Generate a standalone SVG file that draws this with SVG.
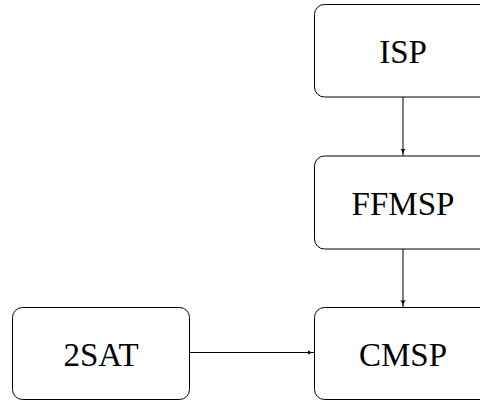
<svg xmlns="http://www.w3.org/2000/svg" width="480" height="401" viewBox="0 0 480 401">
<style>
.box{fill:#fff;stroke:#000;stroke-width:1}
.lbl{font-family:"Liberation Serif","Times New Roman",serif;font-size:33px;fill:#000;text-anchor:middle}
.edge{fill:none;stroke:#000;stroke-width:1}
</style>
<defs>
<marker id="arr" viewBox="0 0 10 8" refX="10" refY="4" markerWidth="7" markerHeight="5.6" markerUnits="userSpaceOnUse" orient="auto">
<path d="M0,0 Q4,4 10,4 Q4,4 0,8 Q2,4 0,0 Z" fill="#000"/>
</marker>
</defs>
<g id="connectors">
<line class="edge" x1="403" y1="97" x2="403" y2="155.5" marker-end="url(#arr)"/>
<line class="edge" x1="403" y1="249" x2="403" y2="307" marker-end="url(#arr)"/>
<line class="edge" x1="189.5" y1="352.5" x2="314.5" y2="352.5" marker-end="url(#arr)"/>
</g>
<g id="ISP">
<rect class="box" x="314.5" y="4.5" width="177" height="92.5" rx="10"/>
<text class="lbl" x="403" y="62.5">ISP</text>
</g>
<g id="FFMSP">
<rect class="box" x="314.5" y="156" width="177" height="93" rx="10"/>
<text class="lbl" x="403" y="214.5">FFMSP</text>
</g>
<g id="CMSP">
<rect class="box" x="314.5" y="307.5" width="177" height="92" rx="10"/>
<text class="lbl" x="403" y="366">CMSP</text>
</g>
<g id="2SAT">
<rect class="box" x="12.5" y="307.5" width="177" height="92" rx="10"/>
<text class="lbl" x="101" y="366">2SAT</text>
</g>
</svg>
